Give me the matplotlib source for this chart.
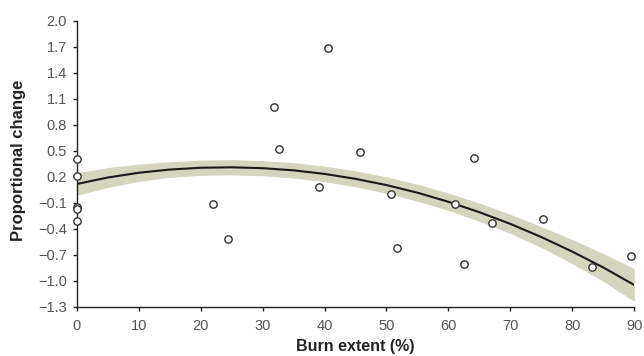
import matplotlib.pyplot as plt
import numpy as np

plt.rcParams['font.family'] = ['Liberation Sans', 'DejaVu Sans']

# observed points
burn = np.array([0, 0, 0, 0, 0, 22.0, 24.5, 31.8, 32.7, 39.1, 40.5, 45.8, 50.8,
                 51.7, 61.0, 62.5, 64.2, 67.0, 75.2, 83.2, 89.4])
change = np.array([0.40, 0.21, -0.145, -0.175, -0.307, -0.12, -0.52, 1.00, 0.52,
                   0.085, 1.69, 0.48, 0.00, -0.62, -0.12, -0.81, 0.41, -0.34,
                   -0.29, -0.84, -0.72])

# fitted curve and band
fit_x = np.arange(0, 91, 5)
fit_y = np.array([0.115, 0.19, 0.245, 0.282, 0.303, 0.308, 0.298, 0.273, 0.232,
                  0.175, 0.103, 0.015, -0.09, -0.21, -0.345, -0.497, -0.665,
                  -0.848, -1.05])
band_half = np.array([0.13, 0.115, 0.10, 0.09, 0.088, 0.087, 0.087, 0.088, 0.09,
                      0.092, 0.095, 0.098, 0.10, 0.105, 0.11, 0.12, 0.14, 0.16, 0.19])

yticks = [-1.3, -1.0, -0.7, -0.4, -0.1, 0.2, 0.5, 0.8, 1.1, 1.4, 1.7, 2.0]

fig = plt.figure(figsize=(6.44, 3.56), dpi=100)
ax = fig.add_axes([0.119, 0.1385, 0.866, 0.8035])

ax.fill_between(fit_x, fit_y - band_half, fit_y + band_half, color='#d4d4bf', lw=0)
ax.plot(fit_x, fit_y, color='#1a1a1a', lw=1.5)
ax.scatter(burn, change, s=28, facecolors='white', edgecolors='#333333',
           linewidths=1.0, zorder=3, clip_on=False)

ax.set_xlim(0, 90)
ax.set_ylim(-1.3, 2.0)
ax.set_xticks(range(0, 91, 10))
ax.set_yticks(yticks)
ax.set_yticklabels([f"{v:.1f}".replace('-', '\u2212') for v in yticks])

for s in ['top', 'right']:
    ax.spines[s].set_visible(False)
for s in ['left', 'bottom']:
    ax.spines[s].set_color('#222222')
    ax.spines[s].set_linewidth(1.0)

ax.tick_params(direction='out', length=3, width=1, color='#222222',
               labelsize=10.5, labelcolor='#555555', pad=4)
ax.tick_params(axis='x', pad=6)

ax.set_xlabel('Burn extent (%)', fontsize=11.5, fontweight='bold', color='#222222', labelpad=4)
ax.set_ylabel('Proportional change', fontsize=12, fontweight='bold', color='#222222', labelpad=7)
ax.yaxis.set_label_coords(-0.09, 0.51)

fig.savefig('out.png', dpi=100)
